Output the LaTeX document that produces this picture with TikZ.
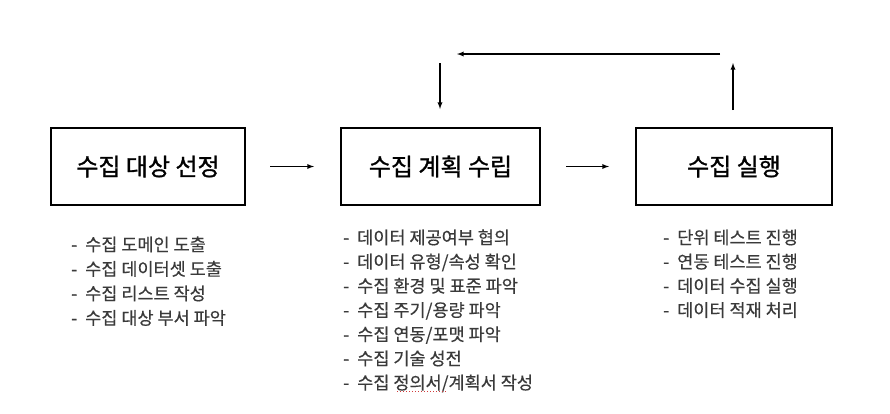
\documentclass[tikz,border=0pt]{standalone}
\usepackage{fontspec}
\setmainfont{Noto Sans CJK KR}
\newfontfamily\stagefont[FakeBold=1.2]{Noto Sans CJK KR}
\newfontfamily\itemfont[FakeBold=0.4]{Noto Sans CJK KR}
\begin{document}
\begin{tikzpicture}[x=1pt,y=-1pt]
    % Define colors
    \definecolor{itemgray}{RGB}{58,58,58}
    \definecolor{spellred}{RGB}{210,60,60}
    \tikzset{
        stage/.style={draw=black, line width=2pt, minimum height=77pt, inner sep=0pt, font=\stagefont\fontsize{24}{28}\selectfont},
        item/.style={anchor=base west, inner sep=0pt, text=itemgray, font=\itemfont\fontsize{17.5}{21}\selectfont},
        flow/.style={-latex, line width=1.3pt}
    }
    \useasboundingbox (0,0) rectangle (890,413);

    % Stages
    \node[stage, minimum width=194pt] (select) at (148,166.5) {수집 대상 선정};
    \node[stage, minimum width=199pt] (plan) at (440.5,166.5) {수집 계획 수립};
    \node[stage, minimum width=196pt] (run) at (734,166.5) {수집 실행};

    % Flow arrows
    \draw[flow] ([xshift=24pt]select.east) -- ([xshift=-26pt]plan.west);
    \draw[flow] ([xshift=25pt]plan.east) -- ([xshift=-26pt]run.west);

    % Feedback loop
    \coordinate (runUp) at (733,110);
    \coordinate (runTop) at (733,63);
    \coordinate (backR) at (720,54);
    \coordinate (backL) at (457,54);
    \coordinate (planTop) at (440,63);
    \coordinate (planIn) at (440,109);
    \draw[flow] (runUp) -- (runTop);
    \draw[flow] (backR) -- (backL);
    \draw[flow] (planTop) -- (planIn);

    % Task lists
    \foreach \t [count=\i] in {수집 도메인 도출, 수집 데이터셋 도출, 수집 리스트 작성, 수집 대상 부서 파악}
        \node[item] (sel\i) at (71,{251+24.5*(\i-1)}) {-\hspace{8pt}\t};
    \foreach \t [count=\i] in {데이터 제공여부 협의, 데이터 유형/속성 확인, 수집 환경 및 표준 파악, 수집 주기/용량 파악, 수집 연동/포맷 파악, 수집 기술 성전, 수집 정의서/계획서 작성}
        \node[item] (pl\i) at (343,{244+24.2*(\i-1)}) {-\hspace{8pt}\t};
    \foreach \t [count=\i] in {단위 테스트 진행, 연동 테스트 진행, 데이터 수집 실행, 데이터 적재 처리}
        \node[item] (ru\i) at (663,{244+24.2*(\i-1)}) {-\hspace{8pt}\t};

    % spell check mark
    \draw[spellred, dotted, line width=1pt] (397,391) -- (446,391);
\end{tikzpicture}
\end{document}
